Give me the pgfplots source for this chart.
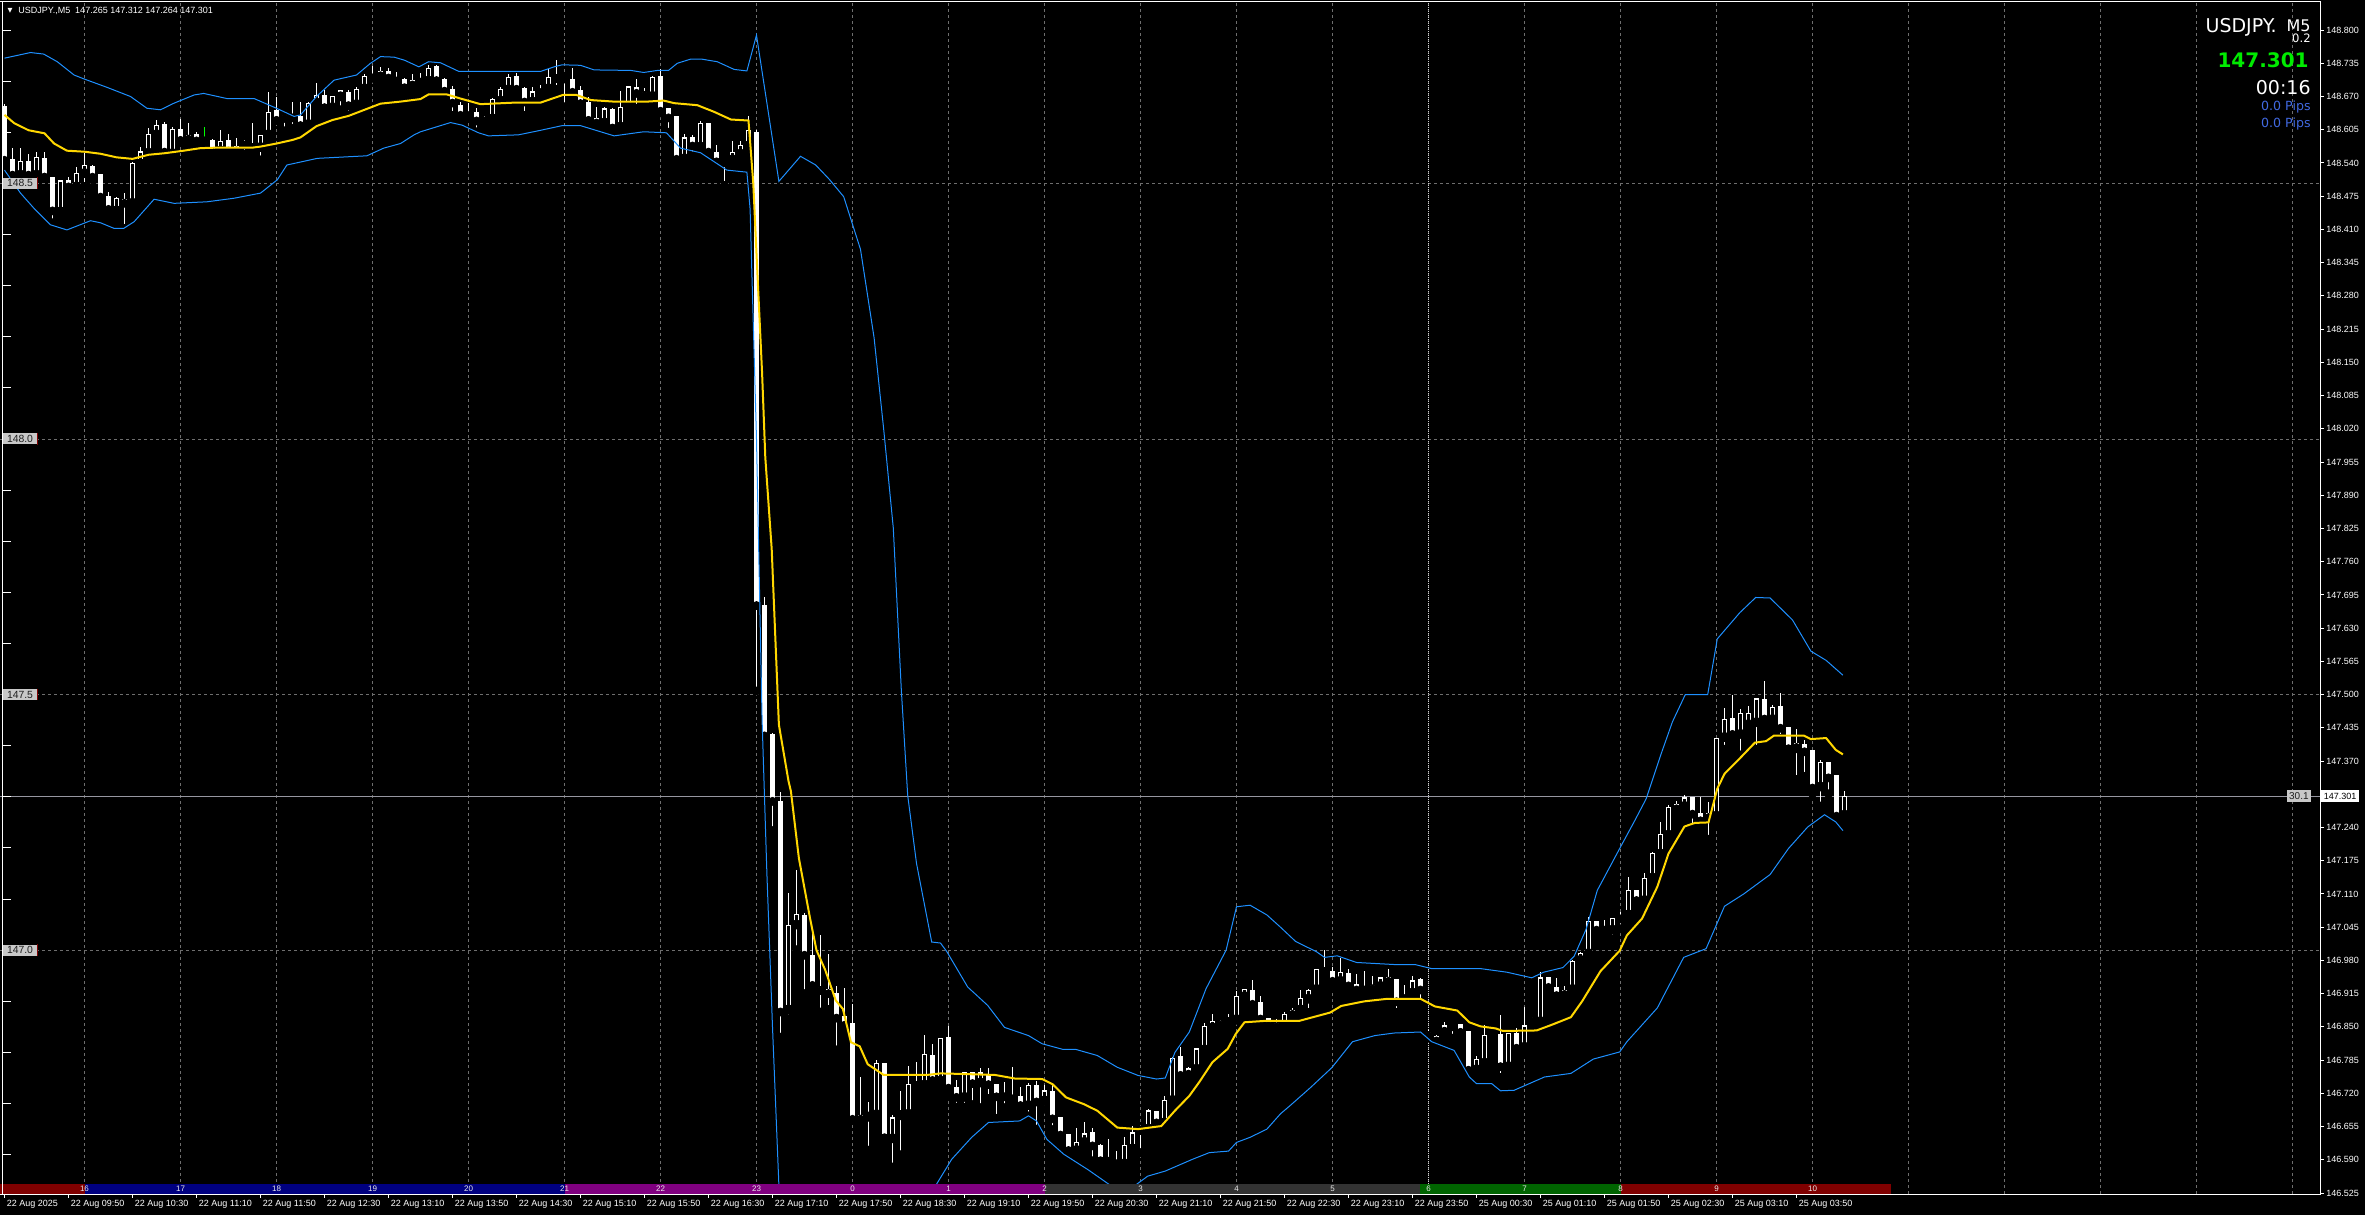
\documentclass[border=0pt]{standalone}
\usepackage{pgfplots}
\pgfplotsset{compat=1.18}
\usepackage{pgfplotstable}
\usepackage{fontspec}
\setmainfont{Liberation Sans}
\newfontfamily\dejavu{DejaVu Sans}
\definecolor{gridc}{RGB}{110,110,110}
\definecolor{bandc}{RGB}{30,144,255}
\definecolor{mac}{RGB}{255,215,0}
\definecolor{pricec}{RGB}{150,150,160}
\definecolor{sepc}{RGB}{210,210,210}
\definecolor{lblbox}{RGB}{200,200,200}
\definecolor{lbltext}{RGB}{30,30,30}
\definecolor{pipsc}{RGB}{65,105,225}
\definecolor{limec}{RGB}{0,235,0}
\definecolor{dojic}{RGB}{0,255,0}
\definecolor{barred}{RGB}{128,0,0}
\definecolor{barnavy}{RGB}{0,0,128}
\definecolor{barpurple}{RGB}{128,0,128}
\definecolor{bargrey}{RGB}{51,51,51}
\definecolor{bargreen}{RGB}{0,100,0}
\newcommand{\fs}[1]{\fontsize{#1}{#1}\selectfont}
\pgfplotsset{chartframe/.style={at={(0,0)}, anchor=south west, scale only axis, width=1160pt, height=596pt, xmin=-0.5625, xmax=289.4375, ymin=146.5231, ymax=148.8549}}
\pgfplotstableread{
i o h l c
0 148.650 148.655 148.540 148.546
1 148.547 148.569 148.514 148.517
2 148.517 148.569 148.515 148.544
3 148.544 148.557 148.515 148.517
4 148.517 148.562 148.515 148.551
5 148.549 148.562 148.512 148.513
6 148.512 148.513 148.423 148.447
7 148.445 148.506 148.444 148.505
8 148.505 148.513 148.486 148.494
9 148.494 148.533 148.490 148.520
10 148.520 148.559 148.494 148.536
11 148.534 148.536 148.507 148.513
12 148.517 148.518 148.462 148.474
13 148.475 148.484 148.441 148.450
14 148.447 148.474 148.441 148.471
15 148.469 148.482 148.412 148.462
16 148.462 148.541 148.458 148.539
17 148.539 148.572 148.538 148.562
18 148.560 148.609 148.559 148.596
19 148.596 148.624 148.595 148.613
20 148.616 148.621 148.559 148.562
21 148.559 148.611 148.549 148.606
22 148.606 148.626 148.582 148.585
23 148.585 148.618 148.575 148.594
24 148.595 148.601 148.575 148.584
26 148.585 148.586 148.560 148.562
27 148.564 148.604 148.562 148.582
28 148.585 148.596 148.562 148.564
29 148.562 148.588 148.554 148.572
30 148.581 148.585 148.557 148.576
31 148.574 148.618 148.569 148.571
32 148.571 148.595 148.546 148.594
33 148.596 148.679 148.595 148.639
34 148.642 148.670 148.623 148.624
35 148.628 148.634 148.603 148.633
36 148.633 148.660 148.608 148.629
37 148.632 148.660 148.612 148.614
38 148.616 148.660 148.614 148.657
39 148.658 148.696 148.657 148.673
40 148.673 148.683 148.647 148.649
41 148.649 148.671 148.644 148.670
42 148.670 148.683 148.644 148.681
43 148.678 148.683 148.634 148.653
44 148.655 148.688 148.654 148.684
45 148.686 148.714 148.685 148.710
46 148.709 148.730 148.706 148.707
47 148.709 148.728 148.708 148.720
48 148.720 148.725 148.702 148.707
49 148.706 148.717 148.699 148.701
50 148.704 148.706 148.681 148.688
51 148.691 148.714 148.689 148.702
52 148.699 148.715 148.694 148.701
53 148.701 148.732 148.700 148.725
54 148.728 148.732 148.696 148.702
55 148.704 148.706 148.680 148.681
56 148.683 148.691 148.633 148.658
57 148.653 148.660 148.623 148.634
58 148.633 148.658 148.632 148.637
59 148.639 148.647 148.601 148.623
60 148.623 148.631 148.611 148.628
61 148.627 148.668 148.625 148.665
62 148.662 148.688 148.661 148.684
63 148.684 148.714 148.673 148.708
64 148.710 148.715 148.681 148.685
65 148.686 148.688 148.633 148.660
66 148.660 148.688 148.659 148.679
67 148.676 148.692 148.670 148.684
68 148.686 148.723 148.683 148.707
69 148.706 148.741 148.684 148.710
70 148.710 148.711 148.650 148.705
71 148.704 148.725 148.676 148.679
72 148.681 148.691 148.647 148.657
73 148.658 148.670 148.623 148.624
74 148.628 148.649 148.606 148.619
75 148.619 148.649 148.606 148.646
76 148.644 148.647 148.608 148.609
77 148.611 148.681 148.610 148.649
78 148.650 148.691 148.633 148.689
79 148.688 148.704 148.647 148.677
80 148.678 148.687 148.662 148.673
81 148.671 148.710 148.670 148.708
82 148.710 148.723 148.638 148.642
83 148.646 148.647 148.600 148.629
84 148.631 148.632 148.543 148.548
85 148.549 148.597 148.536 148.589
86 148.589 148.595 148.554 148.574
87 148.572 148.622 148.569 148.618
88 148.618 148.619 148.557 148.562
89 148.561 148.575 148.541 148.543
90 148.541 148.549 148.496 148.547
91 148.547 148.582 148.543 148.561
92 148.558 148.582 148.543 148.574
93 148.574 148.631 148.572 148.604
94 148.600 148.605 147.507 147.675
95 147.675 147.691 147.417 147.420
96 147.423 147.425 147.234 147.292
97 147.292 147.310 146.830 146.880
98 146.884 147.111 146.866 147.048
99 147.050 147.157 147.001 147.070
100 147.068 147.072 146.915 146.991
101 146.990 147.038 146.916 146.932
102 146.928 147.029 146.879 146.922
103 146.923 146.992 146.884 146.916
104 146.915 146.930 146.805 146.868
105 146.870 146.926 146.845 146.854
106 146.856 146.895 146.668 146.670
107 146.668 146.752 146.658 146.676
108 146.674 146.704 146.609 146.680
109 146.679 146.786 146.670 146.779
110 146.779 146.780 146.622 146.634
111 146.632 146.677 146.576 146.672
112 146.677 146.724 146.600 146.682
113 146.680 146.773 146.665 146.738
114 146.739 146.782 146.733 146.736
115 146.737 146.834 146.736 146.796
116 146.795 146.817 146.733 146.746
117 146.745 146.829 146.736 146.828
118 146.830 146.852 146.715 146.731
119 146.732 146.747 146.693 146.713
120 146.713 146.762 146.693 146.760
121 146.760 146.762 146.698 146.740
122 146.741 146.770 146.692 146.760
123 146.758 146.770 146.710 146.738
124 146.738 146.739 146.671 146.714
125 146.717 146.743 146.692 146.714
126 146.713 146.771 146.696 146.710
127 146.714 146.733 146.679 146.697
128 146.697 146.741 146.676 146.736
129 146.736 146.745 146.650 146.704
130 146.706 146.736 146.689 146.725
131 146.724 146.737 146.649 146.671
132 146.673 146.674 146.638 146.639
133 146.639 146.640 146.601 146.609
134 146.609 146.653 146.604 146.624
135 146.625 146.663 146.614 146.641
136 146.643 146.653 146.588 146.618
137 146.618 146.620 146.581 146.589
138 146.591 146.630 146.581 146.588
139 146.586 146.608 146.575 146.583
140 146.583 146.634 146.581 146.619
141 146.612 146.656 146.609 146.643
142 146.650 146.656 146.604 146.648
143 146.651 146.689 146.634 146.686
144 146.684 146.686 146.653 146.663
145 146.663 146.715 146.660 146.707
146 146.707 146.791 146.705 146.789
147 146.792 146.810 146.753 146.756
148 146.756 146.771 146.741 146.768
149 146.768 146.809 146.767 146.807
150 146.806 146.858 146.805 146.851
151 146.849 146.876 146.843 146.861
152 146.861 146.863 146.841 146.855
153 146.859 146.876 146.857 146.865
154 146.865 146.921 146.863 146.910
155 146.910 146.924 146.895 146.923
156 146.921 146.941 146.889 146.895
157 146.897 146.910 146.865 146.866
158 146.866 146.866 146.851 146.853
159 146.856 146.866 146.843 146.851
160 146.852 146.879 146.850 146.875
161 146.873 146.887 146.864 146.883
162 146.884 146.923 146.881 146.906
163 146.905 146.924 146.878 146.922
164 146.924 146.964 146.919 146.962
165 146.962 147.000 146.957 146.959
166 146.959 146.967 146.926 146.940
167 146.940 146.985 146.938 146.957
168 146.955 146.964 146.928 146.931
169 146.933 146.953 146.919 146.923
170 146.926 146.960 146.921 146.923
171 146.923 146.950 146.919 146.931
172 146.930 146.948 146.928 146.946
173 146.947 146.964 146.938 146.940
174 146.942 146.943 146.878 146.900
175 146.906 146.931 146.890 146.908
176 146.917 146.950 146.902 146.940
177 146.942 146.945 146.898 146.923
178 146.840 146.843 146.828 146.834
179 146.821 146.835 146.820 146.831
180 146.840 146.859 146.833 146.852
181 146.853 146.854 146.828 146.851
182 146.854 146.855 146.839 146.840
183 146.842 146.842 146.756 146.766
184 146.767 146.794 146.765 146.787
185 146.780 146.854 146.777 146.834
186 146.835 146.836 146.832 146.833
187 146.836 146.873 146.751 146.773
188 146.773 146.839 146.763 146.838
189 146.838 146.848 146.800 146.809
190 146.811 146.889 146.800 146.852
191 146.862 146.870 146.848 146.865
192 146.861 146.957 146.859 146.946
193 146.946 146.948 146.923 146.928
194 146.927 146.945 146.910 146.912
195 146.912 146.930 146.910 146.921
196 146.924 146.981 146.923 146.979
197 146.981 146.997 146.967 146.994
198 146.994 147.065 146.992 147.056
199 147.056 147.058 147.038 147.040
200 147.041 147.060 147.038 147.040
201 147.040 147.063 147.022 147.062
202 147.062 147.075 147.042 147.064
203 147.070 147.143 147.069 147.117
204 147.117 147.118 147.088 147.098
205 147.098 147.151 147.095 147.141
206 147.142 147.193 147.140 147.189
207 147.189 147.251 147.187 147.227
208 147.226 147.285 147.224 147.279
209 147.275 147.292 147.274 147.285
210 147.282 147.303 147.279 147.298
211 147.298 147.299 147.239 147.267
212 147.268 147.299 147.242 147.254
213 147.258 147.289 147.217 147.268
214 147.263 147.415 147.246 147.414
215 147.417 147.473 147.393 147.452
216 147.454 147.499 147.414 147.423
217 147.423 147.471 147.382 147.463
218 147.442 147.477 147.432 147.463
219 147.446 147.493 147.393 147.492
220 147.490 147.526 147.450 147.453
221 147.452 147.480 147.450 147.475
222 147.476 147.503 147.414 147.435
223 147.435 147.437 147.393 147.395
224 147.395 147.432 147.334 147.404
225 147.402 147.411 147.340 147.389
226 147.391 147.392 147.306 147.318
227 147.320 147.373 147.282 147.367
228 147.367 147.368 147.306 147.338
229 147.342 147.343 147.251 147.263
230 147.265 147.312 147.264 147.301
}\candles
\begin{document}
\begin{tikzpicture}
\fill[black] (0,-10.5pt) rectangle (1182.5pt,597pt);
\begin{axis}[
  chartframe,
  axis background/.style={fill=black},
  axis line style={draw=none},
  tick align=outside, major tick length=2pt, minor tick length=0pt,
  tick style={white, line width=0.5pt},
  xtick pos=left, ytick pos=right, yticklabel pos=right,
  xtick={0,8,...,224},
  xticklabels={22 Aug 2025,22 Aug 09:50,22 Aug 10:30,22 Aug 11:10,22 Aug 11:50,22 Aug 12:30,22 Aug 13:10,22 Aug 13:50,22 Aug 14:30,22 Aug 15:10,22 Aug 15:50,22 Aug 16:30,22 Aug 17:10,22 Aug 17:50,22 Aug 18:30,22 Aug 19:10,22 Aug 19:50,22 Aug 20:30,22 Aug 21:10,22 Aug 21:50,22 Aug 22:30,22 Aug 23:10,22 Aug 23:50,25 Aug 00:30,25 Aug 01:10,25 Aug 01:50,25 Aug 02:30,25 Aug 03:10,25 Aug 03:50},
  xticklabel style={anchor=north west, inner sep=0pt, xshift=1pt, yshift=-1pt, text=white, font=\fs{4.5pt}},
  ytick={146.525,146.590,146.655,146.720,146.785,146.850,146.915,146.980,147.045,147.110,147.175,147.240,147.370,147.435,147.500,147.565,147.630,147.695,147.760,147.825,147.890,147.955,148.020,148.085,148.150,148.215,148.280,148.345,148.410,148.475,148.540,148.605,148.670,148.735,148.800},
  yticklabels={146.525,146.590,146.655,146.720,146.785,146.850,146.915,146.980,147.045,147.110,147.175,147.240,147.370,147.435,147.500,147.565,147.630,147.695,147.760,147.825,147.890,147.955,148.020,148.085,148.150,148.215,148.280,148.345,148.410,148.475,148.540,148.605,148.670,148.735,148.800},
  yticklabel style={anchor=west, inner sep=0pt, xshift=1pt, text=white, font=\fs{4.5pt}},
  minor xtick={10,22,...,286},
  xminorgrids=true,
  minor x grid style={gridc, dash pattern=on 1.5pt off 1.5pt, line width=0.5pt},
  extra y ticks={147,147.5,148,148.5},
  extra y tick labels={},
  extra y tick style={grid=major, major tick length=0pt, major grid style={gridc, dash pattern=on 1.5pt off 1.5pt, line width=0.5pt}},
]
% day separator and current price line
\addplot[sepc, line width=0.5pt, dash pattern=on 0.5pt off 0.5pt, forget plot] coordinates {(178,146.5231) (178,148.8549)};
\addplot[pricec, line width=0.5pt, solid, forget plot] coordinates {(-0.5625,147.301) (289.4375,147.301)};
% wicks: from low, upwards to high
\addplot[forget plot, only marks, mark=none, solid,
  error bars/.cd, y dir=plus, y explicit, error mark=none,
  error bar style={draw=white, solid, line width=0.55pt, line cap=butt}]
  table[x=i, y=l, y error plus expr={\thisrow{h}-\thisrow{l}}] {\candles};
% bodies: from the lower of open/close, upwards
\addplot[forget plot, only marks, mark=none, solid,
  error bars/.cd, y dir=plus, y explicit, error mark=none,
  error bar style={draw=white, solid, line width=2.75pt, line cap=butt}]
  table[x=i, y expr={min(\thisrow{o},\thisrow{c})-0.0008}, y error plus expr={abs(\thisrow{c}-\thisrow{o})+0.0016}] {\candles};
% hollow interior of rising candles
\addplot[forget plot, only marks, mark=none, solid,
  error bars/.cd, y dir=plus, y explicit, error mark=none,
  error bar style={draw=black, solid, line width=1.45pt, line cap=butt}]
  table[x=i, y expr={\thisrow{c}>\thisrow{o}+0.0045 ? \thisrow{o}+0.0016 : 146.0}, y error plus expr={max(\thisrow{c}-\thisrow{o}-0.0032,0.0001)}] {\candles};
% green doji
\addplot[forget plot, only marks, mark=none, solid,
  error bars/.cd, y dir=plus, y explicit, error mark=none,
  error bar style={draw=dojic, solid, line width=0.55pt, line cap=butt}]
  coordinates {(25,148.582) +- (0,0.028)};
\addplot[forget plot, only marks, mark=none, solid,
  error bars/.cd, y dir=plus, y explicit, error mark=none,
  error bar style={draw=dojic, solid, line width=2.75pt, line cap=butt}]
  coordinates {(25,148.5832) +- (0,0.0016)};
\end{axis}
% indicator lines in an overlaid axis, drawn above the candles
\begin{axis}[chartframe, hide axis]
% upper band
\addplot[bandc, line width=0.5pt, solid] coordinates {
(0,148.745) (3.25,148.756) (4.9,148.753) (6.6,148.738) (8.7,148.712) (10,148.704) (12.8,148.688) (15.75,148.670) (17.8,148.647) (19.5,148.644) (21.2,148.657) (23.7,148.673) (24.9,148.676) (27.8,148.666) (31.2,148.666) (34,148.647) (36.2,148.631) (37,148.634) (39,148.670) (41.2,148.702) (44,148.712) (45.75,148.735) (47,148.748) (48.7,148.747) (50,148.741) (51.8,148.728) (53,148.738) (54.5,148.736) (56.8,148.719) (59.5,148.719) (67,148.719) (68.7,148.728) (69.7,148.732) (72,148.731) (73.7,148.722) (78.3,148.721) (79.9,148.717) (81.6,148.721) (83,148.721) (84.1,148.735) (85.75,148.743) (87.2,148.743) (89.1,148.738) (91.2,148.723) (92.8,148.720) (94,148.790) (96.8,148.504) (99.5,148.553) (101.4,148.536) (103.1,148.508) (104.9,148.474) (107,148.371) (108.7,148.198) (109.9,148.019) (111.1,147.826) (112.1,147.510) (112.9,147.303) (114.0,147.170) (115.9,147.016) (117,147.014) (117.8,146.997) (120.4,146.928) (122.9,146.892) (125,146.849) (128,146.833) (129.7,146.817) (132.3,146.806) (133.9,146.806) (136.6,146.794) (139.1,146.771) (141.7,146.755) (144,146.748) (145.1,146.750) (146.3,146.800) (148.1,146.840) (150.2,146.925) (152.7,147.000) (154,147.085) (155.7,147.088) (157.8,147.069) (159.5,147.045) (161.4,147.017) (164,146.997) (165,146.986) (166.6,146.989) (169,146.976) (173.7,146.972) (176.3,146.972) (178.4,146.964) (184.5,146.964) (187.8,146.957) (190.9,146.946) (192.4,146.957) (194.8,146.966) (196.2,146.988) (197.7,147.041) (199.1,147.117) (201.9,147.199) (203.8,147.254) (205.2,147.296) (207.1,147.385) (208.5,147.447) (210.1,147.500) (212.9,147.500) (214.1,147.609) (216.9,147.660) (218.9,147.690) (220.7,147.689) (223.5,147.646) (225.8,147.585) (227.7,147.567) (229.8,147.538)};
% lower band
\addplot[bandc, line width=0.5pt, solid] coordinates {
(0,148.526) (2,148.481) (3.7,148.451) (5.75,148.419) (7.8,148.409) (10.75,148.427) (12,148.423) (13.7,148.412) (14.9,148.412) (16.2,148.425) (18.7,148.469) (21.2,148.461) (25.3,148.464) (28.7,148.471) (32,148.481) (34.1,148.507) (35.3,148.536) (39.1,148.549) (45.3,148.554) (47.4,148.569) (49.5,148.578) (51.2,148.595) (52,148.601) (55.75,148.619) (57.2,148.614) (59.25,148.599) (60.5,148.593) (64.25,148.595) (66.75,148.603) (69.7,148.613) (72,148.613) (74.1,148.603) (76.2,148.593) (79.9,148.601) (82.75,148.599) (84.5,148.569) (87,148.560) (90.3,148.526) (92.8,148.522) (93.2,148.450) (94,148.000) (94.7,147.450) (95.3,147.150) (96,146.850) (96.8,146.540) (97.5,146.200) (100,146.000) (113,146.000) (114.5,146.400) (116.3,146.537) (118.4,146.591) (120.9,146.634) (123,146.663) (126.9,146.666) (128,146.676) (129,146.666) (130.3,146.630) (132.4,146.601) (135.5,146.570) (138.7,146.535) (140.9,146.535) (142.9,146.558) (145.1,146.568) (148.5,146.591) (150.6,146.604) (153,146.607) (154,146.624) (155.7,146.634) (157.8,146.650) (159.5,146.680) (160.7,146.696) (163.3,146.732) (165.9,146.770) (168.5,146.821) (171.3,146.833) (173.7,146.838) (177,146.840) (178.4,146.821) (181.2,146.804) (183.1,146.752) (184,146.739) (185.9,146.739) (187,146.725) (188.7,146.726) (192.5,146.752) (195.8,146.759) (198.6,146.787) (201.9,146.801) (202.8,146.821) (206.6,146.887) (209.9,146.986) (212.7,147.003) (215,147.086) (217.4,147.110) (220.7,147.148) (223,147.199) (225.4,147.241) (227.5,147.265) (228.9,147.251) (229.8,147.234)};
% moving average
\addplot[mac, line width=1pt, solid] coordinates {
(0,148.634) (1.2,148.618) (3,148.604) (5,148.598) (6.2,148.578) (7.8,148.564) (10,148.562) (12,148.558) (14,148.551) (16,148.548) (18,148.556) (20,148.559) (22.4,148.564) (24.5,148.569) (26.6,148.570) (31,148.570) (32,148.572) (34,148.578) (36,148.585) (37,148.590) (39,148.612) (41,148.624) (43,148.632) (45,148.644) (47,148.656) (49.5,148.660) (52,148.665) (53,148.674) (55.3,148.674) (57,148.666) (59.5,148.655) (63.7,148.658) (67,148.658) (69.8,148.673) (71.5,148.673) (73.3,148.663) (76.2,148.660) (80.3,148.660) (82.4,148.662) (83.7,148.657) (86.6,148.653) (88.7,148.640) (90.8,148.625) (93,148.623) (93.6,148.500) (94.1,148.329) (94.7,148.129) (95.1,147.964) (95.9,147.785) (96.8,147.441) (98.0,147.331) (98.3,147.311) (99.3,147.180) (100.7,147.062) (101.5,147.000) (102.6,146.961) (103.9,146.902) (104.8,146.885) (105.8,146.820) (106.9,146.812) (107.9,146.777) (109.9,146.756) (115.3,146.756) (117,146.759) (119.5,146.758) (123.8,146.756) (126.3,146.749) (129.7,146.748) (131,146.738) (132.7,146.712) (134.9,146.699) (136.6,146.686) (139.1,146.653) (141.7,146.650) (144.6,146.656) (146.3,146.686) (148.1,146.715) (149.3,146.741) (151,146.781) (152.9,146.807) (153.9,146.836) (155,146.859) (157.8,146.862) (161.9,146.862) (165.7,146.878) (167.1,146.891) (170,146.900) (172.9,146.905) (177,146.905) (178.8,146.890) (181.6,146.882) (183.1,146.859) (184.5,146.851) (186.4,146.847) (187.3,146.842) (191.5,146.843) (193.4,146.854) (195.8,146.869) (197.2,146.900) (199.5,146.959) (201.9,146.999) (202.8,147.029) (204.7,147.062) (206.6,147.124) (208,147.189) (210,147.242) (211.3,147.249) (213,147.250) (214.1,147.316) (215,147.345) (216.9,147.375) (218.8,147.406) (220.2,147.409) (221.2,147.420) (224.9,147.420) (225.8,147.413) (227.7,147.415) (228.9,147.392) (229.8,147.383)};
\end{axis}
% session bar
\fill[barred] (0,0) rectangle (42.25pt,5pt);
\fill[barnavy] (42.25pt,0) rectangle (282.25pt,5pt);
\fill[barpurple] (282.25pt,0) rectangle (522.25pt,5pt);
\fill[bargrey] (522.25pt,0) rectangle (710pt,5pt);
\fill[bargreen] (710pt,0) rectangle (810.25pt,5pt);
\fill[barred] (810.25pt,0) rectangle (945.5pt,5pt);
\foreach \xx/\hh in {42/16,90/17,138/18,186/19,234/20,282/21,330/22,378/23,426/0,474/1,522/2,570/3,618/4,666/5,714/6,762/7,810/8,858/9,906/10}
  \node[text=white!85!gray, font=\fs{4pt}, inner sep=0pt] at (\xx pt+0.25pt,2.6pt) {\hh};
% frame
\draw[white, line width=0.5pt] (0,596pt) -- (1160pt,596pt) -- (1160pt,0pt) -- (0,0);
\draw[white, line width=0.5pt] (1.25pt,0) -- (1.25pt,596pt);
% left scale marks
\foreach \k in {0,...,22} {
  \pgfmathsetmacro\yy{19.66+25.56*\k}
  \draw[white, line width=0.5pt] (1.25pt,\yy pt) -- (5.25pt,\yy pt);
}
% left level labels
\foreach \yy/\tt in {505.3/148.5,377.5/148.0,249.7/147.5,121.9/147.0}{
  \node[fill=lblbox, text=lbltext, font=\fs{5.2pt}, anchor=west, inner xsep=1.8pt, inner ysep=0pt, minimum height=5.5pt] (L) at (1.5pt,\yy pt) {\tt};
  \draw[barred, line width=0.5pt] (L.north east) -- (L.south east);
}
% current price marks
\node[fill=lblbox, text=lbltext, font=\fs{5pt}, anchor=east, inner xsep=1pt, inner ysep=0pt, minimum height=6pt] at (1155.5pt,198.8pt) {30.1};
\node[fill=white, text=black, font=\fs{4.5pt}, anchor=west, inner xsep=1.2pt, inner ysep=0pt, minimum height=6pt] at (1160.5pt,198.8pt) {147.301};
% title
\node[text=white, font=\dejavu\fs{3.2pt}, inner sep=0pt] at (5pt,591.5pt) {▼};
\node[text=white, font=\fs{4.5pt}, anchor=west, inner sep=0pt] at (9pt,591.5pt) {USDJPY.,M5\ \ 147.265 147.312 147.264 147.301};
% info block
\node[text=white, font=\dejavu\fs{9.5pt}, anchor=base east, inner sep=0pt] at (1138.5pt,580.5pt) {USDJPY.};
\node[text=white, font=\dejavu\fs{8pt}, anchor=base east, inner sep=0pt] at (1155.5pt,581pt) {M5};
\node[text=white, font=\dejavu\fs{5.8pt}, anchor=base east, inner sep=0pt] at (1155.5pt,575.5pt) {0.2};
\node[text=limec, font=\dejavu\bfseries\fs{10pt}, anchor=base east, inner sep=0pt] at (1154.5pt,563pt) {147.301};
\node[text=white, font=\dejavu\fs{9.5pt}, anchor=base east, inner sep=0pt] at (1155.5pt,549.5pt) {00:16};
\node[text=pipsc, font=\dejavu\fs{6.3pt}, anchor=base east, inner sep=0pt] at (1155.5pt,541.5pt) {0.0 Pips};
\node[text=pipsc, font=\dejavu\fs{6.3pt}, anchor=base east, inner sep=0pt] at (1155.5pt,533pt) {0.0 Pips};
\pgfresetboundingbox
\useasboundingbox (0,-10.5pt) rectangle (1182.5pt,597pt);
\end{tikzpicture}
\end{document}
